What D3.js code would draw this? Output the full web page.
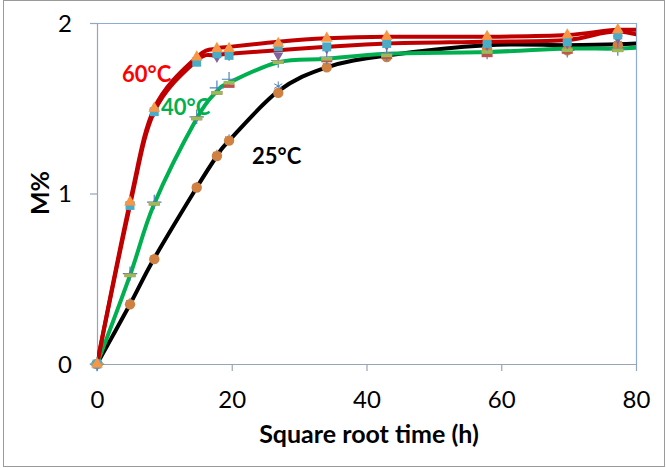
<!DOCTYPE html>
<html>
<head>
<meta charset="utf-8">
<script src="https://cdn.jsdelivr.net/npm/d3@7"></script>
<style>
	body { margin: 0; background: #fff; }
	svg text { font-family: Lato, "Liberation Sans", sans-serif; }
</style>
</head>
<body>
<svg id="chart" width="666" height="468"></svg>
<script>
// sampling times (square root of hours) and the extra point past the axis end
var timeX = [0, 4.9, 8.5, 14.8, 17.8, 19.6, 26.9, 34.1, 43.0, 57.9, 69.8, 77.3];
var lineX = timeX.concat([85]);

// smoothed curves
var red60a  = [0, 0.95, 1.50, 1.80, 1.85, 1.86, 1.89, 1.91, 1.92, 1.92, 1.93, 1.96, 1.95];
var red60b  = [0, 0.93, 1.48, 1.78, 1.81, 1.82, 1.84, 1.86, 1.88, 1.89, 1.90, 1.95, 1.88];
var green40 = [0, 0.52, 0.94, 1.44, 1.60, 1.65, 1.77, 1.79, 1.82, 1.83, 1.85, 1.85, 1.87];
var black25 = [0, 0.35, 0.62, 1.035, 1.22, 1.31, 1.60, 1.74, 1.81, 1.87, 1.87, 1.875, 1.89];

// measured replicates (markers)
var tri60   = [0, 0.95, 1.50, 1.80, 1.85, 1.85, 1.88, 1.91, 1.92, 1.92, 1.93, 1.96];
var sq60    = [0, 0.93, 1.48, 1.77, 1.82, 1.81, 1.86, 1.86, 1.88, 1.88, 1.89, 1.93];
var pur60   = [0, 0.93, 1.48, 1.78, 1.80, 1.81, 1.81, 1.85, 1.87, 1.87, 1.88, 1.91];
var gdash40 = [0, 0.52, 0.94, 1.44, 1.59, 1.65, 1.77, 1.79, 1.81, 1.83, 1.84, 1.84];
var rdash40 = [0, 0.52, 0.94, 1.44, 1.59, 1.63, 1.77, 1.78, 1.80, 1.81, 1.83, 1.84];
var plus40  = [0, 0.53, 0.95, 1.45, 1.62, 1.67, 1.78, 1.80, 1.82, 1.83, 1.84, 1.85];
var circ25  = [0, 0.35, 0.615, 1.035, 1.22, 1.31, 1.59, 1.74, 1.80, 1.85, 1.84, 1.87];
var star25  = [0, 0.36, 0.62, 1.04, 1.23, 1.32, 1.63, 1.75, 1.81, 1.86, 1.86, 1.88];

var xTicks = [0, 20, 40, 60, 80];
var yTicks = [0, 1, 2];

var svg = d3.select('#chart');

// outer chart border
svg.append('rect')
	.attr('x', 3.5).attr('y', 0.5).attr('width', 661).attr('height', 466)
	.attr('fill', 'none').attr('stroke', '#9a9a9a');

var x = d3.scaleLinear().domain([0, 80]).range([97, 636]);
var y = d3.scaleLinear().domain([0, 2]).range([364, 23]);

svg.append('clipPath').attr('id', 'plotClip')
	.append('rect').attr('x', 97).attr('y', 0).attr('width', 539).attr('height', 366);

// plot area frame (top / right)
svg.append('path')
	.attr('d', 'M97,23.5H636.5V364')
	.attr('fill', 'none').attr('stroke', '#8eaad6').attr('stroke-width', 1.2);

var xAxis = svg.append('g').attr('transform', 'translate(0,364)')
	.call(d3.axisBottom(x).tickValues(xTicks).tickSize(7).tickSizeOuter(0).tickFormat(d3.format('d')));
var yAxis = svg.append('g').attr('transform', 'translate(97,0)')
	.call(d3.axisLeft(y).tickValues(yTicks).tickSize(7).tickSizeOuter(0).tickFormat(d3.format('d')));

[xAxis, yAxis].forEach(function(a) {
	a.select('.domain').attr('stroke', '#98a4b8').attr('stroke-width', 1.2);
	a.selectAll('.tick line').attr('stroke', '#98a4b8').attr('stroke-width', 1.2);
	a.selectAll('.tick text').attr('fill', '#000').style('font-size', '24px')
		.style('font-family', 'Lato, sans-serif');
});
xAxis.selectAll('.tick text').attr('y', 27).attr('dy', '0.71em');
yAxis.selectAll('.tick text').attr('x', -25).attr('dy', '0.35em');

// axis titles
svg.append('text')
	.attr('x', 369).attr('y', 443).attr('text-anchor', 'middle')
	.style('font-size', '25px').style('font-weight', 'bold')
	.text('Square root time (h)');

svg.append('text')
	.attr('transform', 'translate(49,193) rotate(-90)').attr('text-anchor', 'middle')
	.style('font-size', '25px').style('font-weight', 'bold')
	.text('M%');

// curves
var plot = svg.append('g').attr('clip-path', 'url(#plotClip)');

var line = d3.line()
	.x(function(d) { return x(d[0]); })
	.y(function(d) { return y(d[1]); })
	.curve(d3.curveCatmullRom.alpha(0));

function zipLine(vals) {
	return lineX.map(function(t, i) { return [t, vals[i]]; });
}

var curves = [
	{ vals: black25, color: '#000000' },
	{ vals: green40, color: '#00b050' },
	{ vals: red60b,  color: '#c00000' },
	{ vals: red60a,  color: '#c00000' }
];
plot.selectAll('path.curve').data(curves).enter().append('path')
	.attr('class', 'curve')
	.attr('d', function(d) { return line(zipLine(d.vals)); })
	.attr('fill', 'none')
	.attr('stroke', function(d) { return d.color; })
	.attr('stroke-width', 4);

// markers
function zipPts(vals) {
	return timeX.map(function(t, i) { return [t, vals[i]]; });
}

function symbolSeries(vals, type, size, fill, stroke, sw) {
	svg.append('g').selectAll('path').data(zipPts(vals)).enter().append('path')
		.attr('transform', function(d) { return 'translate(' + x(d[0]) + ',' + y(d[1]) + ')'; })
		.attr('d', d3.symbol().type(type).size(size))
		.attr('fill', fill)
		.attr('stroke', stroke || 'none')
		.attr('stroke-width', sw || 0);
}

function dashSeries(vals, color) {
	svg.append('g').selectAll('rect').data(zipPts(vals)).enter().append('rect')
		.attr('x', function(d) { return x(d[0]) - 5.5; })
		.attr('y', function(d) { return y(d[1]) - 1.8; })
		.attr('width', 11).attr('height', 3.6)
		.attr('fill', color);
}

// 25 C
symbolSeries(star25, d3.symbolAsterisk, 60, 'none', '#4f81bd', 1);
symbolSeries(circ25, d3.symbolCircle, 85, '#d08040');
// 40 C
symbolSeries(plus40, d3.symbolPlus, 70, 'none', '#4f81bd', 1.2);
dashSeries(rdash40, '#c0504d');
dashSeries(gdash40, '#9bbb59');
// 60 C
svg.append('g').selectAll('path').data(zipPts(pur60)).enter().append('path')
	.attr('transform', function(d) { return 'translate(' + x(d[0]) + ',' + y(d[1]) + ') rotate(180)'; })
	.attr('d', d3.symbol().type(d3.symbolTriangle).size(45))
	.attr('fill', '#8064a2');
symbolSeries(sq60, d3.symbolSquare, 80, '#4bacc6');
symbolSeries(tri60, d3.symbolTriangle, 60, '#f79646');

// temperature labels
var labels = [
	{ text: '60°C', x: 122, y: 82, color: '#ff0000' },
	{ text: '40°C', x: 161, y: 115, color: '#00b050' },
	{ text: '25°C', x: 252, y: 164, color: '#000000' }
];
svg.selectAll('text.temp').data(labels).enter().append('text')
	.attr('class', 'temp')
	.attr('x', function(d) { return d.x; })
	.attr('y', function(d) { return d.y; })
	.attr('fill', function(d) { return d.color; })
	.style('font-size', '22px').style('font-weight', 'bold')
	.text(function(d) { return d.text; });
</script>
</body>
</html>
